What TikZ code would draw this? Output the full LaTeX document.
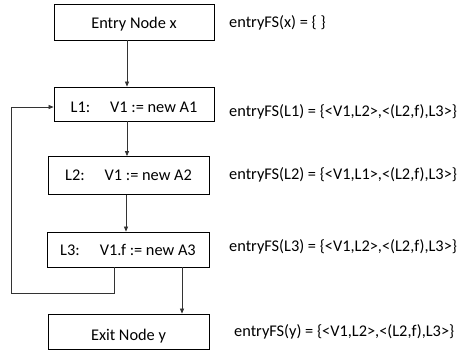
\documentclass[tikz,border=0pt]{standalone}
\usepackage{fontspec}
\setmainfont{Carlito}
\usepackage{tikz}
\usetikzlibrary{positioning, arrows.meta, calc}

\begin{document}
\begin{tikzpicture}[>={Triangle[length=5bp, width=4bp]}, x=1bp, y=-1bp,
        font=\fontsize{16.4}{19}\selectfont,
        block/.style={draw, line width=0.8bp, minimum width=160bp, inner sep=0pt,
                      text height=13.6bp, text depth=3bp},
        flow/.style={->, line width=0.7bp, draw=black!80},
        fact/.style={anchor=west, inner sep=0pt}]
        \useasboundingbox (0, 0) rectangle (457, 351);

        \node[block, minimum height=36bp, text height=15.6bp]
              (entry) at (134, 22)      {Entry Node x};
        \node[block, minimum height=34bp, text height=19.6bp]
              (l1)    at (134, 104)     {L1:\hspace{20bp}V1 := new A1};
        \node[block, minimum width=161bp, minimum height=38bp]
              (l2)    at (128.5, 175.5) {L2:\hspace{20bp}V1 := new A2};
        \node[block, minimum width=162bp, minimum height=35bp, text height=15.6bp]
              (l3)    at (128, 249.5)   {L3:\hspace{20bp}V1.f := new A3};
        \node[block, minimum width=161bp, minimum height=35bp, text height=21.6bp]
              (exit)  at (128.5, 331.5) {Exit Node y};

        \node[fact] (fsx)  at (229, 23)  {entryFS(x) = \{ \}};
        \node[fact] (fsl1) at (229, 112) {entryFS(L1) = \{<V1,L2>,<(L2,f),L3>\}};
        \node[fact] (fsl2) at (229, 175) {entryFS(L2) = \{<V1,L1>,<(L2,f),L3>\}};
        \node[fact] (fsl3) at (229, 247) {entryFS(L3) = \{<V1,L2>,<(L2,f),L3>\}};
        \node[fact] (fsy)  at (234, 332) {entryFS(y) = \{<V1,L2>,<(L2,f),L3>\}};

        \draw[flow] ([xshift=-7bp]entry.south) -- ([xshift=-7bp]l1.north);
        \draw[flow] ([xshift=-7bp]l1.south)    -- ([xshift=-7bp]l1.south |- l2.north);
        \draw[flow] ([xshift=-2.5bp]l2.south)  -- ([xshift=-2.5bp]l2.south |- l3.north);
        \draw[flow] ([xshift=54bp]l3.south)    -- ([xshift=54bp]l3.south |- exit.north);

        % back edge
        \coordinate (back) at (11, 293);
        \draw[flow] ([xshift=-14bp]l3.south) |- (back) |- ([yshift=-3bp]l1.west);
\end{tikzpicture}
\end{document}
